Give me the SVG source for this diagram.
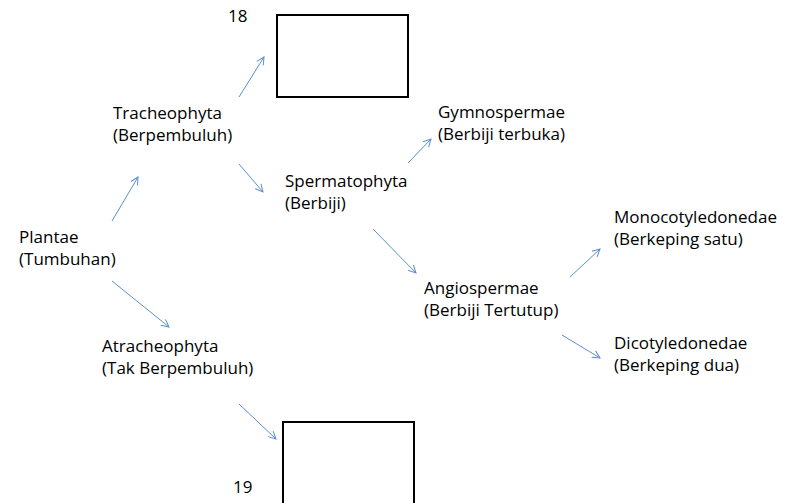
<svg xmlns="http://www.w3.org/2000/svg" width="789" height="503" viewBox="0 0 789 503">
<style>
text{font-family:"Open Sans","Liberation Sans",sans-serif;font-size:17px;fill:#000}
.box{fill:#fff;stroke:#000;stroke-width:2}
.ar{stroke:#5b8fd0;stroke-width:1;fill:none;marker-end:url(#ah)}
</style>
<defs>
<marker id="ah" markerUnits="userSpaceOnUse" markerWidth="12" markerHeight="12" refX="9" refY="6" orient="auto">
<path d="M1.5,2.2 L9,6 L1.5,9.8" fill="none" stroke="#5b8fd0" stroke-width="1"/>
</marker>
</defs>
<rect width="789" height="503" fill="#fff"/>
<g id="connectors">
<line class="ar" x1="112" y1="221" x2="138" y2="177"/>
<line class="ar" x1="112" y1="281" x2="169" y2="327"/>
<line class="ar" x1="239" y1="97" x2="264" y2="57"/>
<line class="ar" x1="239" y1="164" x2="263" y2="192"/>
<line class="ar" x1="239" y1="404" x2="276" y2="439"/>
<line class="ar" x1="408" y1="163" x2="431" y2="139"/>
<line class="ar" x1="373" y1="229" x2="416" y2="273"/>
<line class="ar" x1="570" y1="277" x2="600" y2="249"/>
<line class="ar" x1="562" y1="335" x2="600" y2="358"/>
</g>
<g id="box18">
<text x="228" y="22">18</text>
<rect class="box" x="277" y="15" width="131" height="82"/>
</g>
<g id="box19">
<text x="233" y="493">19</text>
<rect class="box" x="283" y="422" width="131" height="90"/>
</g>
<g id="plantae">
<text x="19" y="243">Plantae</text>
<text x="19" y="265">(Tumbuhan)</text>
</g>
<g id="tracheophyta">
<text x="113" y="119">Tracheophyta</text>
<text x="113" y="141">(Berpembuluh)</text>
</g>
<g id="atracheophyta">
<text x="102" y="352">Atracheophyta</text>
<text x="102" y="374">(Tak Berpembuluh)</text>
</g>
<g id="spermatophyta">
<text x="285" y="187">Spermatophyta</text>
<text x="285" y="209">(Berbiji)</text>
</g>
<g id="gymnospermae">
<text x="438" y="118">Gymnospermae</text>
<text x="438" y="140">(Berbiji terbuka)</text>
</g>
<g id="angiospermae">
<text x="424" y="294">Angiospermae</text>
<text x="424" y="316">(Berbiji Tertutup)</text>
</g>
<g id="monocotyledonedae">
<text x="614" y="223">Monocotyledonedae</text>
<text x="614" y="245">(Berkeping satu)</text>
</g>
<g id="dicotyledonedae">
<text x="614" y="349">Dicotyledonedae</text>
<text x="614" y="371">(Berkeping dua)</text>
</g>
</svg>
